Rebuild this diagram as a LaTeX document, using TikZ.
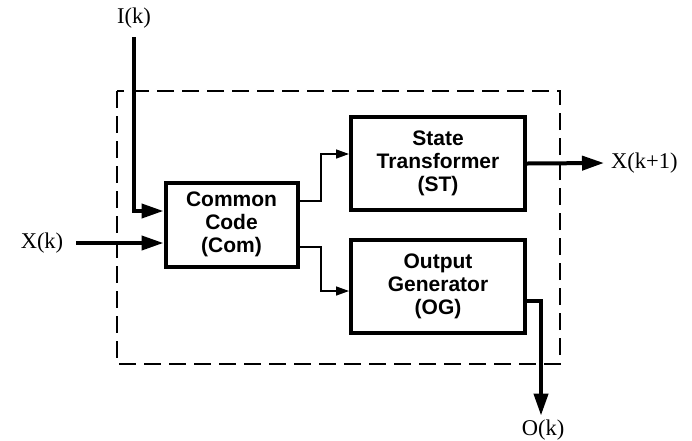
\documentclass[tikz,border=0pt]{standalone}
\usepackage{fontspec}
\setmainfont{Liberation Serif}
\newfontfamily\boxfont{Liberation Sans}
\usetikzlibrary{arrows.meta}
\begin{document}
\begin{tikzpicture}[x=1pt,y=-1pt,
  blk/.style={draw,line width=4pt,minimum width=174pt,minimum height=93pt,
    align=center,font=\boxfont\bfseries\fontsize{21}{23}\selectfont},
  lbl/.style={font=\fontsize{22.5}{25}\selectfont,inner sep=1pt},
  thickarr/.style={line width=4pt,-{Triangle[length=22pt,width=14pt]}},
  thinarr/.style={line width=1.4pt,-{Triangle[length=13pt,width=9pt]}},
  boundary/.style={line width=1.4pt,dash pattern=on 17pt off 8pt}]
\useasboundingbox (0,0) rectangle (692,440);
\draw[boundary] (117,91) rectangle (560,364);
\node[blk,minimum width=132pt,minimum height=84pt] (Com) at (231.5,224.5) {Common\\Code\\(Com)};
\node[blk] (ST) at (438,163.5) {State\\Transformer\\(ST)};
\node[blk] (OG) at (438,286.5) {Output\\Generator\\(OG)};
\node[lbl] (Ik) at (134,18) {I(k)};
\node[lbl] (Xk) at (42,243) {X(k)};
\node[lbl,anchor=west] (Xk1) at (610,163) {X(k+1)};
\node[lbl] (Ok) at (543,430) {O(k)};
\coordinate (iy) at (0,211);
\coordinate (a1) at (321,154);
\coordinate (b1) at (321,201);
\coordinate (a2) at (321,247);
\coordinate (b2) at (321,291);
\coordinate (o1) at (541,301);
\draw[thickarr] ([yshift=-8pt]Ik.south) |- (Com.west |- iy);
\draw[thickarr] ([xshift=12pt]Xk.east) -- (Com.west |- Xk);
\draw[thinarr] (Com.east |- b1) -- (b1) -- (a1) -- (ST.west |- a1);
\draw[thinarr] (Com.east |- a2) -- (a2) -- (b2) -- (OG.west |- b2);
\draw[thickarr] (ST.east) -- ([xshift=-6pt]Xk1.west);
\draw[thickarr] (OG.east |- o1) -- (o1) -- ([yshift=3pt]Ok.north -| o1);
\end{tikzpicture}
\end{document}
